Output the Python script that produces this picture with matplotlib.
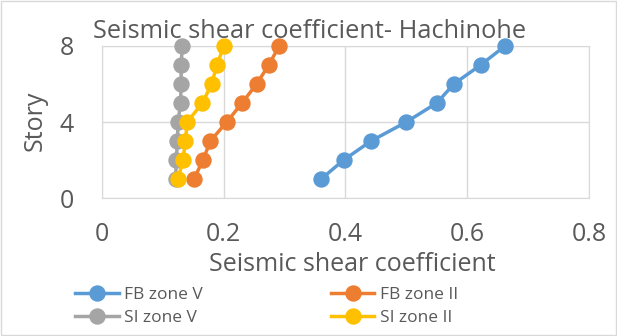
import numpy as np
import matplotlib.pyplot as plt
from matplotlib.patches import Rectangle

# storey levels and shear coefficients for each case
story = [1, 2, 3, 4, 5, 6, 7, 8]
fb_zone5 = [0.360, 0.397, 0.442, 0.500, 0.550, 0.578, 0.622, 0.662]
fb_zone2 = [0.151, 0.166, 0.178, 0.205, 0.230, 0.254, 0.274, 0.291]
si_zone5 = [0.121, 0.122, 0.124, 0.125, 0.129, 0.130, 0.130, 0.132]
si_zone2 = [0.125, 0.133, 0.137, 0.140, 0.165, 0.180, 0.189, 0.200]

labels = ['FB zone V', 'FB zone II', 'SI zone V', 'SI zone II']
colors = ['#5b9bd5', '#ed7d31', '#a5a5a5', '#ffc000']

plt.rcParams['font.family'] = ['Open Sans', 'DejaVu Sans']
txt = '#595959'

fig = plt.figure(figsize=(6.17, 3.36), dpi=100)
ax = fig.add_axes([0.1653, 0.4107, 0.7893, 0.4524])

lines = []
for xs, lab, c in zip([fb_zone5, fb_zone2, si_zone5, si_zone2], labels, colors):
    ln, = ax.plot(xs, story, '-o', color=c, lw=2.5, ms=10.8, label=lab, clip_on=False, zorder=3)
    lines.append(ln)

ax.set_xlim(0, 0.8)
ax.set_ylim(0, 8)
ax.set_xticks([0, 0.2, 0.4, 0.6, 0.8])
ax.set_xticklabels(['0', '0.2', '0.4', '0.6', '0.8'])
ax.set_yticks([0, 4, 8])
ax.grid(True, color='#d9d9d9', lw=1)
ax.set_axisbelow(True)
for s in ax.spines.values():
    s.set_color('#d9d9d9')
ax.tick_params(length=0, labelsize=18, labelcolor=txt)
ax.tick_params(axis='x', pad=17)
ax.tick_params(axis='y', pad=20)
ax.set_xlabel('Seismic shear coefficient', fontsize=18, color=txt, va='center')
ax.xaxis.set_label_coords(0.513, -0.44)
ax.set_ylabel('Story', fontsize=18, color=txt, va='center')
ax.yaxis.set_label_coords(-0.138, 0.51)
fig.text(0.502, 0.905, 'Seismic shear coefficient- Hachinohe', ha='center', va='center',
         fontsize=18.3, color=txt)

# legend fills by column, so order handles to read row by row
order = [0, 2, 1, 3]
fig.legend([lines[i] for i in order], [labels[i] for i in order],
           loc='center', bbox_to_anchor=(0.432, 0.088), ncol=2, frameon=False, fontsize=12.5,
           labelcolor=txt, handlelength=2.5, handletextpad=0.3, columnspacing=7.4,
           labelspacing=0.4, borderpad=0)

fig.patches.append(Rectangle((0.002, 0.003), 0.996, 0.994, transform=fig.transFigure,
                             fill=False, edgecolor='#d9d9d9', lw=1))

fig.savefig('out.png', dpi=100)
